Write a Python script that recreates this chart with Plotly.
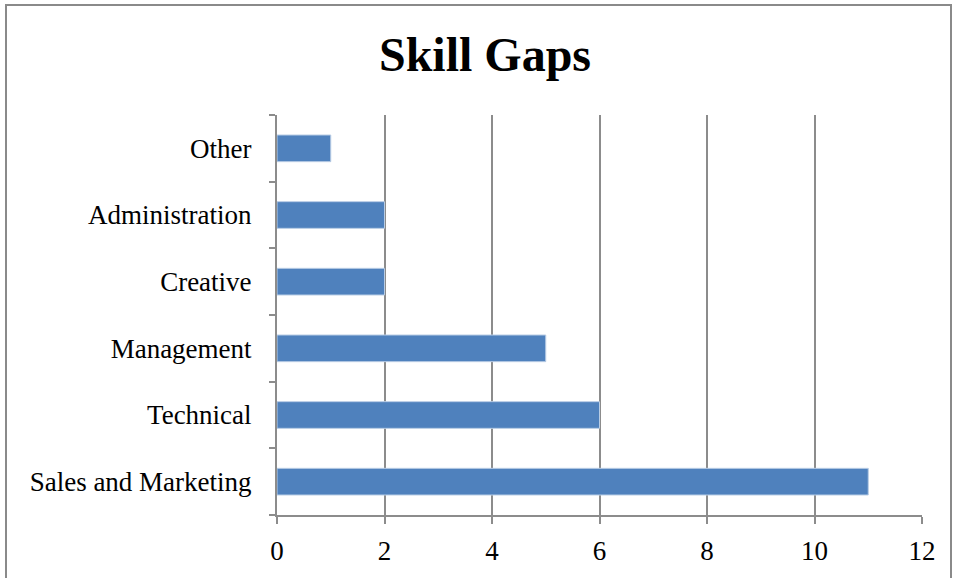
import plotly.graph_objects as go

# Skill gap counts, listed bottom to top
categories = ["Sales and Marketing", "Technical", "Management",
              "Creative", "Administration", "Other"]
counts = [11, 6, 5, 2, 2, 1]
x_ticks = [0, 2, 4, 6, 8, 10, 12]

W, H = 953, 578
L, R, T, B = 277, 31, 115, 63
pw, ph = W - L - R, H - T - B

def px_x(px):
    return (px - L) / pw

def px_y(py):
    return (H - B - py) / ph

serif = "Liberation Serif, Times New Roman, serif"
grid = "#8c8c8c"

fig = go.Figure(go.Bar(
    x=counts, y=categories, orientation="h",
    marker=dict(color="#4f81bd", line=dict(color="#b9cde5", width=1)),
))

fig.update_layout(
    width=W, height=H,
    margin=dict(l=L, r=R, t=T, b=B, autoexpand=False),
    paper_bgcolor="white", plot_bgcolor="white",
    bargap=0.6,
    showlegend=False,
    font=dict(family=serif, size=27, color="black"),
    title=dict(text="<b>Skill Gaps</b>", x=px_x(485), xref="paper",
               xanchor="center", y=1 - 54 / H, yanchor="middle",
               font=dict(family=serif, size=48, color="black")),
    shapes=[dict(type="rect", xref="paper", yref="paper",
                 x0=px_x(6), x1=px_x(951), y0=px_y(600), y1=px_y(5),
                 line=dict(color="#8a8a8a", width=2), layer="below")],
)

fig.update_xaxes(
    range=[0, 12], tickvals=x_ticks, ticktext=[str(v) for v in x_ticks],
    showgrid=True, gridcolor=grid, gridwidth=2,
    showline=True, linecolor=grid, linewidth=2,
    ticks="outside", ticklen=7, tickwidth=2, tickcolor=grid,
    ticklabelstandoff=4, zeroline=False,
)
fig.update_yaxes(
    categoryorder="array", categoryarray=categories,
    showgrid=False, showline=True, linecolor=grid, linewidth=2,
    ticks="outside", ticklen=6, tickwidth=2, tickcolor=grid,
    tickson="boundaries", ticklabelstandoff=18,
)

fig.write_html("out.html")
